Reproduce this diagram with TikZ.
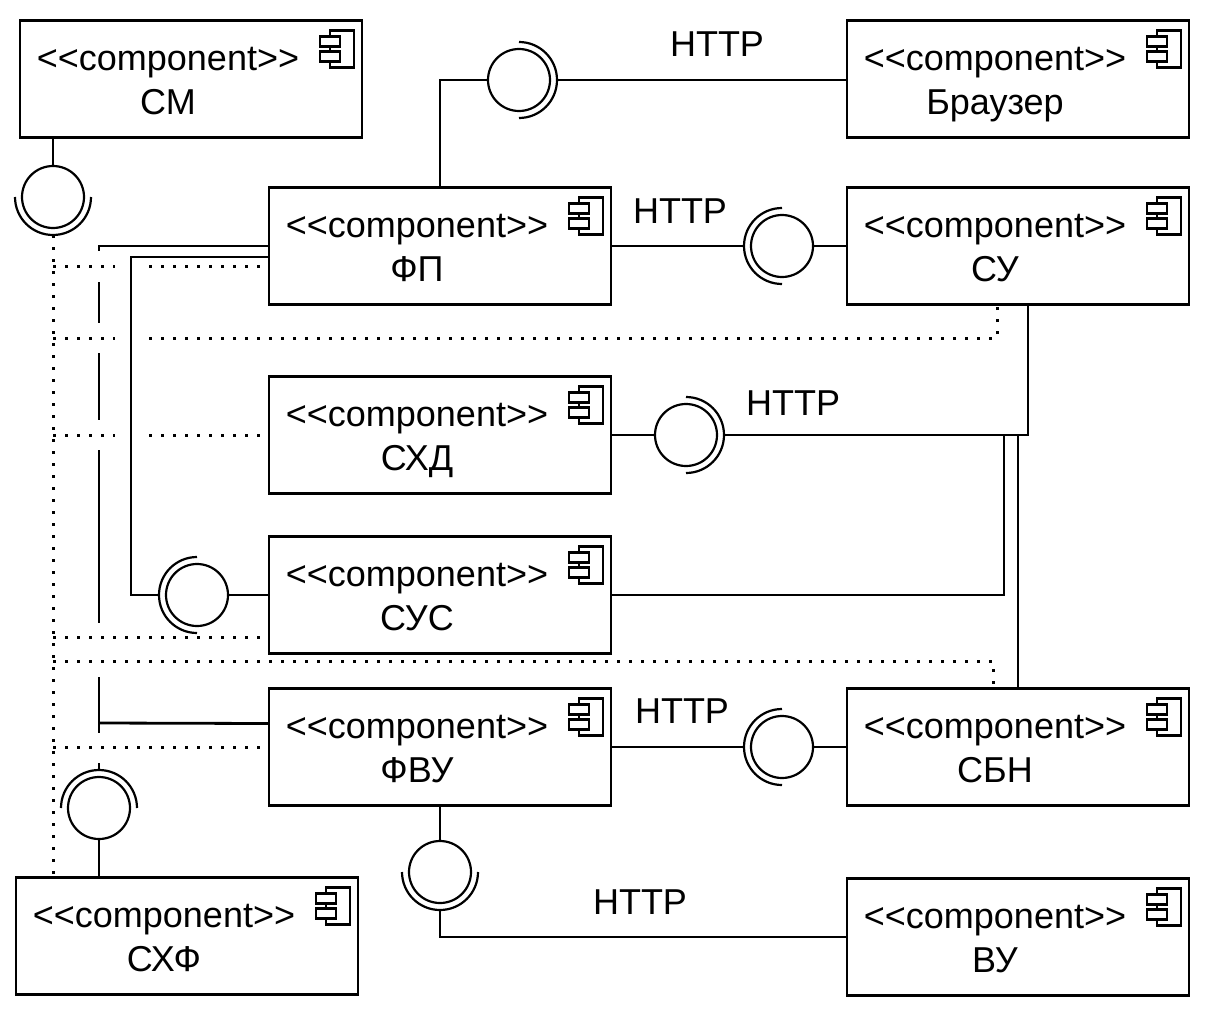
\documentclass[tikz,border=0pt]{standalone}
\usepackage{fontspec}
\setmainfont{Liberation Sans}[Ligatures=TeXOff]
\tikzset{
  comp/.style={draw, line width=2.8pt, minimum width=342pt, minimum height=117pt,
               inner sep=0pt, outer sep=0pt},
  ctext/.style={anchor=base, inner sep=0pt, font=\fontsize{36}{43}\selectfont},
  ball/.style={circle, draw, fill=white, line width=2.2pt, minimum size=62pt,
               inner sep=0pt, outer sep=0pt},
  wire/.style={line width=2.8pt},
  dep/.style={line width=3pt, dash pattern=on 3pt off 9pt},
  pics/socket/.style={code={
    \draw[line width=2.2pt] (#1:38pt) arc[start angle=#1, delta angle=180, radius=38pt];}},
  pics/compicon/.style={code={
    \draw[line width=2.4pt] (-32pt,-10pt) rectangle (-8pt,-47pt);
    \draw[line width=2.4pt, fill=white] (-42pt,-16pt) rectangle (-22pt,-26pt);
    \draw[line width=2.4pt, fill=white] (-42pt,-31pt) rectangle (-22pt,-41pt);}}
}
\newcommand{\umlcomp}[3]{%
  \node[comp] (#1) at (#2) {};
  \node[ctext] (#1-s) at ([xshift=-23pt, yshift=-50pt]#1.north) {<<component>>};
  \node[ctext] (#1-t) at ([xshift=-23pt, yshift=-94pt]#1.north) {#3};
  \pic at (#1.north east) {compicon};
}
\begin{document}
\begin{tikzpicture}[x=1pt, y=1pt]
  \useasboundingbox (0,0) rectangle (1206,-1014);

  % components
  \umlcomp{cm}{191,-79}{СМ}
  \umlcomp{browser}{1018,-79}{Браузер}
  \umlcomp{fp}{440,-246}{ФП}
  \umlcomp{su}{1018,-246}{СУ}
  \umlcomp{shd}{440,-435}{СХД}
  \umlcomp{sus}{440,-595}{СУС}
  \umlcomp{fvu}{440,-747}{ФВУ}
  \umlcomp{sbn}{1018,-747}{СБН}
  \umlcomp{shf}{187,-936}{СХФ}
  \umlcomp{vu}{1018,-937}{ВУ}

  % interfaces
  \node[ball] (cm-i) at (53,-197) {};
  \node[ball] (br-i) at (519,-80) {};
  \node[ball] (su-i) at (782,-246) {};
  \node[ball] (shd-i) at (686,-435) {};
  \node[ball] (sus-i) at (197,-595) {};
  \node[ball] (sbn-i) at (782,-747) {};
  \node[ball] (vu-i) at (440,-872) {};
  \node[ball] (shf-i) at (99,-808) {};
  \pic at (cm-i.center) {socket=180};
  \pic at (br-i.center) {socket=-90};
  \pic at (su-i.center) {socket=90};
  \pic at (shd-i.center) {socket=-90};
  \pic at (sus-i.center) {socket=90};
  \pic at (sbn-i.center) {socket=90};
  \pic at (vu-i.center) {socket=180};
  \pic at (shf-i.center) {socket=0};

  \coordinate (sus-j) at (1004,-435);

  % links
  \draw[wire] (cm-i.north) -- (cm-i.north |- cm.south);
  \draw[wire] (fp.north) |- (br-i.west);
  \draw[wire] ([xshift=38pt]br-i.center) -- (browser.west |- br-i.center);
  \draw[wire] (fp.east) -- ([xshift=-38pt]su-i.center);
  \draw[wire] (su-i.east) -- (su.west);
  \draw[wire] (shd.east) -- (shd-i.west);
  \draw[wire] ([xshift=38pt]shd-i.center) -| ([xshift=10pt]su.south);
  \draw[wire] (sus.east) -| (sus-j);
  \draw[wire] (sbn.north) -- (sbn.north |- shd.east);
  \draw[wire] (fvu.east) -- ([xshift=-38pt]sbn-i.center);
  \draw[wire] (sbn-i.east) -- (sbn.west);
  \draw[wire] (fvu.south) -- (vu-i.north);
  \draw[wire] ([yshift=-38pt]vu-i.center) |- (vu.west);
  \draw[wire] (sus-i.east) -- (sus.west);
  \draw[wire] ([xshift=-38pt]sus-i.center) -- (131,-595) |- ([yshift=-11pt]fp.west);
  \draw[wire] (shf-i.south) -- (shf-i.south |- shf.north);
  % gaps where the dotted lines cross
  \draw[wire] (fp.west) -| (99,-251) (99,-282) -- (99,-323) (99,-353) -- (99,-420)
    (99,-450) -- (99,-623) (99,-677) -- (99,-733) (99,-763) -- ([yshift=38pt]shf-i.center);
  \draw[wire] ([yshift=23.5pt]fvu.west) -- (99,-723);

  % dotted dependencies
  \draw[dep] ([yshift=-38pt]cm-i.center) -- (cm-i.center |- shf.north);
  \draw[dep] (53,-266) -- (115,-266) (149,-266) -- ([yshift=-20pt]fp.west);
  \draw[dep] (53,-338) -- (115,-338) (149,-338) -| ([xshift=-21pt]su.south);
  \draw[dep] (53,-435) -- (115,-435) (149,-435) -- (shd.west);
  \draw[dep] (53,-637) -- ([yshift=-42pt]sus.west);
  \draw[dep] (53,-661) -| ([xshift=-25pt]sbn.north);
  \draw[dep] (53,-747) -- (fvu.west);

  % labels
  \node[ctext] (http-br) at (717,-57) {HTTP};
  \node[ctext] (http-su) at (680,-223) {HTTP};
  \node[ctext] (http-shd) at (793,-415) {HTTP};
  \node[ctext] (http-sbn) at (682,-723) {HTTP};
  \node[ctext] (http-vu) at (640,-914) {HTTP};
\end{tikzpicture}
\end{document}
